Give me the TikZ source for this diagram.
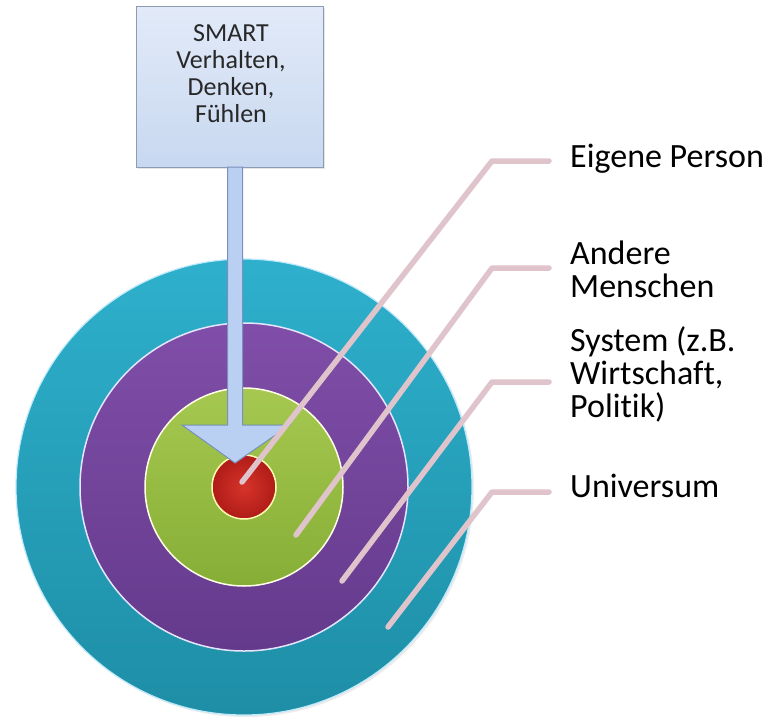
\documentclass[tikz,border=0pt]{standalone}
\usepackage{fontspec}
\setmainfont[Ligatures=NoCommon]{Carlito}
\usetikzlibrary{shadows}
\definecolor{tealtop}{RGB}{46,176,204}
\definecolor{tealbot}{RGB}{30,142,166}
\definecolor{purptop}{RGB}{128,78,168}
\definecolor{purpbot}{RGB}{100,58,140}
\definecolor{greentop}{RGB}{166,200,80}
\definecolor{greenbot}{RGB}{134,174,54}
\definecolor{redin}{RGB}{214,52,42}
\definecolor{redout}{RGB}{176,28,24}
\definecolor{boxtop}{RGB}{226,234,248}
\definecolor{boxbot}{RGB}{200,216,240}
\definecolor{boxline}{RGB}{140,156,180}
\definecolor{arrowfill}{RGB}{186,208,242}
\definecolor{arrowline}{RGB}{120,144,190}
\definecolor{leadcol}{RGB}{224,196,204}
\definecolor{txtgray}{RGB}{40,40,40}
\begin{document}
\begin{tikzpicture}[x=1pt,y=-1pt,
  ring/.style={circle, inner sep=0pt, outer sep=0pt},
  leader/.style={draw=leadcol, line width=5.5pt, line cap=round, line join=round},
  lab/.style={anchor=base west, align=left, inner sep=0pt, font=\fontsize{34}{33}\selectfont, text=black},
  boxtext/.style={font=\fontsize{26}{27}\selectfont, text=txtgray, align=center}
]
\path[use as bounding box] (0,0) rectangle (778,718);
\fill[white] (0,0) rectangle (778,718);

% circles
\node[ring, minimum size=456pt, top color=tealtop, bottom color=tealbot,
      draw=cyan!25, line width=1.2pt, drop shadow={opacity=0.15, shadow xshift=2pt, shadow yshift=-2pt}] (univ) at (244,487) {};
\node[ring, minimum size=328pt, top color=purptop, bottom color=purpbot,
      draw=white!90!blue, line width=1.5pt] (sys) at (244,487) {};
\node[ring, minimum size=198pt, top color=greentop, bottom color=greenbot,
      draw=white!90!yellow, line width=1.5pt] (other) at (244,487) {};
\node[ring, minimum size=64pt, inner color=redin, outer color=redout,
      draw=yellow!30, line width=1.5pt] (self) at (244,487) {};

% box and arrow
\node[draw=boxline, line width=1pt, top color=boxtop, bottom color=boxbot,
      minimum width=187pt, minimum height=161pt, inner sep=0pt,
      drop shadow={opacity=0.2, shadow xshift=2pt, shadow yshift=-2pt}] (box) at (229.5,86.5) {};
\node[boxtext, anchor=base] (boxt) at (231,122) {SMART\\Verhalten,\\Denken,\\Fühlen};

\coordinate (ashaftL) at (227.5,167);
\coordinate (ashaftR) at (242.5,167);
\coordinate (aheadL) at (182,425);
\coordinate (aheadR) at (290,425);
\coordinate (atip) at (235,463);
\filldraw[fill=arrowfill, draw=arrowline, line width=1pt, line join=miter]
  (ashaftL) -- (ashaftL |- aheadL) -- (aheadL) -- (atip) -- (aheadR) -- (ashaftR |- aheadR) -- (ashaftR) -- cycle;

% labels (base anchor = baseline of the last line)
\node[lab] (l1) at (570,167) {Eigene Person};
\node[lab] (l2) at (570,297) {Andere\\Menschen};
\node[lab] (l3) at (570,417) {System (z.B.\\Wirtschaft,\\Politik)};
\node[lab] (l4) at (570,497) {Universum};

% leader lines
\coordinate (p1) at (242,482);
\coordinate (e1) at (492,161);
\coordinate (t1) at (549,161);
\coordinate (p2) at (296,535);
\coordinate (e2) at (492,268);
\coordinate (t2) at (549,268);
\coordinate (p3) at (342,581);
\coordinate (e3) at (492,382);
\coordinate (t3) at (549,382);
\coordinate (p4) at (388,627);
\coordinate (e4) at (492,492);
\coordinate (t4) at (549,492);
\draw[leader] (p1) -- (e1) -- (t1);
\draw[leader] (p2) -- (e2) -- (t2);
\draw[leader] (p3) -- (e3) -- (t3);
\draw[leader] (p4) -- (e4) -- (t4);
\end{tikzpicture}
\end{document}
